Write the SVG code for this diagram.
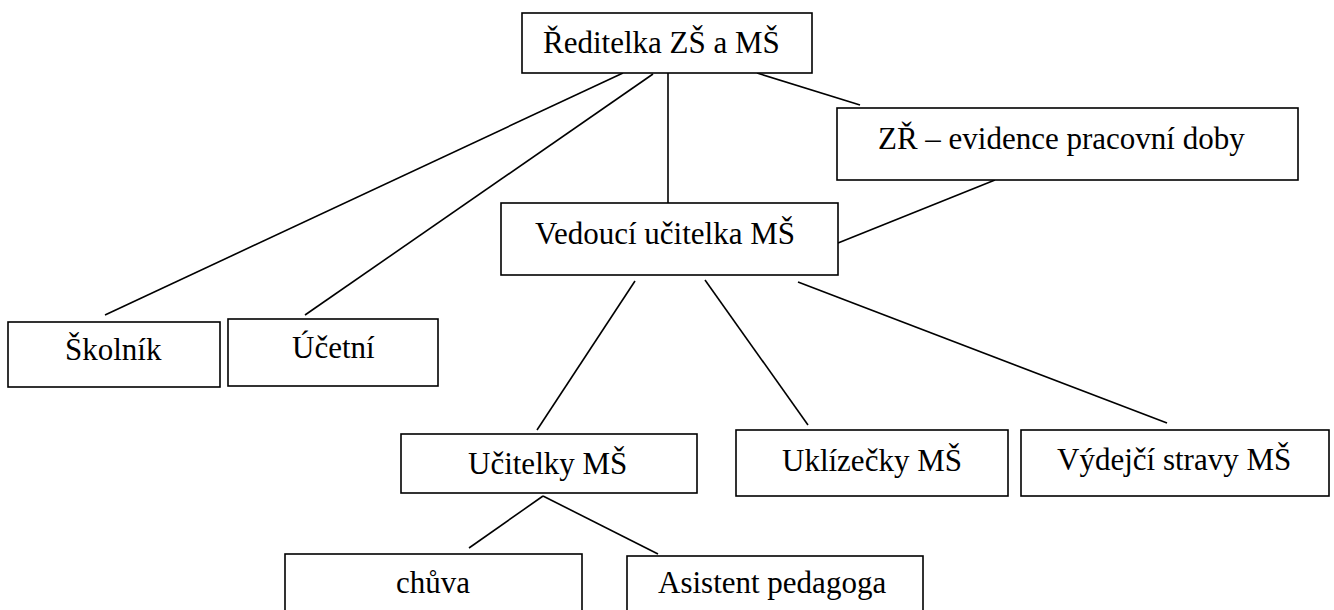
<svg xmlns="http://www.w3.org/2000/svg" width="1334" height="610" viewBox="0 0 1334 610">
<style>
rect{fill:#fff;stroke:#000;stroke-width:1.6}
line{stroke:#000;stroke-width:1.6}
.t{font-family:'Liberation Serif','Times New Roman','DejaVu Serif',serif;font-size:31px;fill:#000}
</style>
<rect x="0" y="0" width="1334" height="610" style="stroke:none"/>
<g id="connectors">
<line x1="623" y1="73" x2="105" y2="315"/>
<line x1="653" y1="74" x2="305" y2="315"/>
<line x1="668" y1="73" x2="668" y2="203"/>
<line x1="757" y1="73" x2="860" y2="105"/>
<line x1="995" y1="180" x2="838" y2="243"/>
<line x1="635" y1="281" x2="537" y2="430"/>
<line x1="705" y1="280" x2="808" y2="425"/>
<line x1="798" y1="282" x2="1167" y2="423"/>
<line x1="543" y1="496" x2="469" y2="548"/>
<line x1="543" y1="496" x2="658" y2="554"/>
</g>
<g class="t" font-family="Liberation Serif, Times New Roman, serif">
<g id="reditelka"><rect x="522" y="13" width="290" height="60"/><text x="543" y="53">Ředitelka ZŠ a MŠ</text></g>
<g id="zr"><rect x="837" y="108" width="461" height="72"/><text x="878" y="149">ZŘ – evidence pracovní doby</text></g>
<g id="vedouci"><rect x="501" y="203" width="337" height="72"/><text x="535" y="244">Vedoucí učitelka MŠ</text></g>
<g id="skolnik"><rect x="8" y="322" width="212" height="65"/><text x="65" y="360">Školník</text></g>
<g id="ucetni"><rect x="228" y="319" width="210" height="67"/><text x="292" y="358">Účetní</text></g>
<g id="ucitelky"><rect x="401" y="434" width="296" height="59"/><text x="468" y="474">Učitelky MŠ</text></g>
<g id="uklizecky"><rect x="736" y="430" width="272" height="66"/><text x="782" y="471">Uklízečky MŠ</text></g>
<g id="vydejci"><rect x="1021" y="430" width="308" height="66"/><text x="1057" y="470">Výdejčí stravy MŠ</text></g>
<g id="chuva"><rect x="285" y="554" width="297" height="70"/><text x="396" y="593">chůva</text></g>
<g id="asistent"><rect x="627" y="556" width="296" height="70"/><text x="658" y="593">Asistent pedagoga</text></g>
</g>
</svg>
